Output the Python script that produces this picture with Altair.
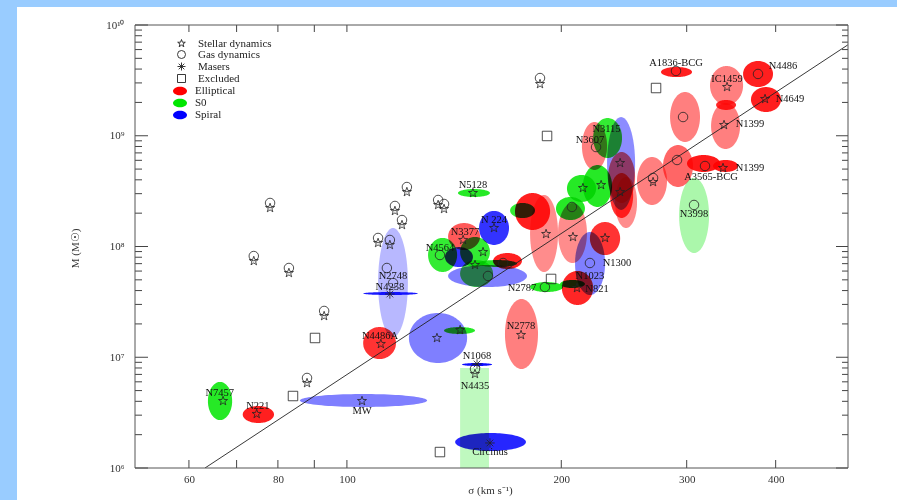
import altair as alt
import numpy as np
import pandas as pd

SERIF = "Liberation Serif"
W, H = 713, 443

# ---- black-hole mass error ellipses: type, sigma range (km/s), log10 M range ----
ell_type = ["S0", "E", "S", "S", "S", "S", "S0", "E", "S", "S",
            "E", "S0", "S0", "S", "E", "S0", "S", "S0", "S", "S0",
            "E", "S0", "E", "E", "E", "S0", "S", "E", "S0", "S0",
            "E", "E", "E", "E", "E", "E", "S0", "E", "E", "E",
            "E", "E", "E", "E", "S0", "E", "S0", "E", "S", "E", "S0"]
ell_sig_lo = [63.8, 71.4, 85.9, 141.9, 145.1, 122.2, 136.9, 105.4, 110.6, 105.4,
              166.7, 180.8, 143.2, 153.3, 138.7, 130.0, 137.3, 144.2, 138.7, 144.2,
              160.4, 152.3, 276.1, 284.3, 213.8, 221.7, 231.9, 232.7, 203.7, 214.5,
              234.2, 238.0, 255.5, 277.9, 300.3, 326.7, 292.7, 323.5, 329.9, 324.6,
              360.0, 369.3, 180.8, 172.2, 169.5, 197.9, 196.6, 219.4, 209.1, 200.4, 199.2]
ell_sig_hi = [69.0, 79.0, 129.6, 178.4, 159.9, 147.5, 151.3, 117.2, 121.8, 125.8,
              185.5, 201.1, 158.8, 168.9, 153.8, 142.8, 150.3, 158.8, 179.0, 160.4,
              176.1, 173.3, 305.2, 313.2, 231.9, 243.4, 253.9, 253.9, 223.8, 235.7,
              252.3, 255.5, 281.5, 306.2, 334.2, 354.2, 322.5, 360.0, 351.9, 356.5,
              396.6, 407.0, 197.9, 192.9, 183.7, 217.3, 215.9, 241.9, 230.4, 221.7, 215.9]
ell_logm_lo = [6.433, 6.406, 6.551, 6.153, 6.921, 6.948, 7.210, 6.984, 7.183, 7.562,
               6.894, 7.589, 8.447, 8.014, 7.968, 7.770, 7.815, 7.815, 7.634, 7.634,
               7.797, 7.815, 9.530, 8.944, 8.691, 8.799, 8.330, 8.393, 8.402, 8.357,
               8.257, 8.167, 8.375, 8.537, 8.673, 8.673, 7.941, 9.278, 9.233, 8.880,
               9.440, 9.214, 7.770, 8.149, 8.257, 7.851, 8.239, 7.923, 7.562, 7.472, 7.625]
ell_logm_hi = [6.777, 6.560, 6.668, 6.316, 6.948, 7.400, 7.273, 7.273, 8.167, 7.589,
               7.526, 7.679, 8.519, 8.321, 8.212, 8.077, 7.995, 8.086, 7.833, 7.878,
               7.941, 7.878, 9.621, 9.395, 9.124, 9.160, 9.169, 8.853, 8.646, 8.736,
               8.664, 8.628, 8.808, 8.916, 8.826, 8.781, 8.619, 9.630, 9.323, 9.296,
               9.675, 9.440, 8.465, 8.483, 8.393, 8.393, 8.447, 8.221, 8.131, 7.779, 7.698]
ell_alpha = [0.85, 0.88, 0.5, 0.85, 0.95, 0.5, 0.85, 0.8, 0.28, 0.9,
             0.5, 0.85, 0.85, 0.8, 0.65, 0.8, 0.8, 0.8, 0.5, 0.7,
             0.88, 0.85, 0.88, 0.5, 0.5, 0.8, 0.45, 0.6, 0.85, 0.85,
             0.8, 0.45, 0.5, 0.6, 0.9, 0.9, 0.33, 0.5, 0.85, 0.5,
             0.88, 0.88, 0.45, 0.88, 0.8, 0.45, 0.85, 0.8, 0.5, 0.85, 0.9]

# upper-limit box (N4435)
lim_type = ["S0"]
lim_sig_lo, lim_sig_hi = [144.2], [158.3]
lim_logm_lo, lim_logm_hi = [6.0], [6.903]
lim_alpha = [0.25]

# ---- measurement markers ----
star_sig = [67.0, 74.7, 105.0, 133.8, 144.2, 111.6, 175.6, 150.3, 160.9, 145.6,
            155.3, 151.3, 241.9, 214.5, 227.5, 190.4, 207.7, 230.4, 210.4, 341.8,
            338.5, 386.5, 337.4, 241.9,
            121.4, 78.0, 116.8, 119.5, 134.3, 136.9, 110.6, 114.9, 74.0, 82.9,
            92.9, 87.9, 186.7, 151.3, 269.1]
star_logm = [6.605, 6.488, 6.605, 7.174, 7.246, 7.120, 7.201, 8.483, 8.167, 8.059,
             7.950, 7.833, 8.754, 8.528, 8.555, 8.113, 8.086, 8.077, 7.625, 9.440,
             9.097, 9.332, 8.709, 8.492,
             8.492, 8.348, 8.321, 8.194, 8.375, 8.339, 8.032, 8.014, 7.869, 7.761,
             7.372, 6.767, 9.467, 6.849, 8.582]
gas_sig = [289.8, 296.5, 223.8, 377.8, 290.8, 318.3, 307.2, 207.0, 219.4, 189.7,
           157.8, 165.7, 135.1, 113.8, 116.1,
           121.4, 78.0, 116.8, 119.5, 134.3, 136.9, 110.6, 114.9, 74.0, 82.9,
           92.9, 87.9, 186.7, 151.3, 269.1]
gas_logm = [9.585, 9.169, 8.898, 9.558, 8.781, 8.727, 8.375, 8.357, 7.851, 7.634,
            7.734, 7.851, 7.923, 7.806, 7.670,
            8.537, 8.393, 8.366, 8.239, 8.420, 8.384, 8.077, 8.059, 7.914, 7.806,
            7.418, 6.813, 9.521, 6.894, 8.619]
maser_sig = [114.9, 152.3, 158.8]
maser_logm = [7.571, 6.939, 6.226]
excl_sig = [191.0, 271.7, 193.5, 90.2, 84.0, 135.1]
excl_logm = [8.998, 9.431, 7.707, 7.174, 6.650, 6.144]

# ---- galaxy names ----
lab_text = ["N7457", "N221", "MW", "Circinus", "N4435", "N1068", "N4486A", "N2748",
            "N4258", "N2778", "N2787", "N5128", "N 224", "N3377", "N4564", "N1300",
            "N1023", "N821", "N3115", "N3607", "A1836-BCG", "IC1459", "N4486", "N4649",
            "N1399", "N1399", "A3565-BCG", "N3998"]
lab_sig = [66.3, 75.0, 105.0, 158.8, 151.3, 152.3, 111.3, 116.1,
           114.9, 175.6, 176.1, 150.3, 160.9, 146.5, 135.1, 239.5,
           219.4, 224.5, 231.5, 219.5, 289.8, 341.8, 409.6, 419.0,
           368.1, 368.1, 324.6, 307.2]
lab_logm = [6.677, 6.560, 6.515, 6.144, 6.740, 7.011, 7.192, 7.734,
            7.634, 7.282, 7.625, 8.555, 8.239, 8.131, 7.986, 7.851,
            7.734, 7.616, 9.065, 8.965, 9.657, 9.512, 9.630, 9.332,
            9.106, 8.709, 8.628, 8.293]

# M-sigma fit line end points
fit_sig = [63.2, 505.0]
fit_logm = [6.00, 9.82]

# axis ticks
X_TICKS = [60, 70, 80, 90, 100, 200, 300, 400]
X_LABELS = [60, 80, 100, 200, 300, 400]
Y_MAJOR = [1e6, 1e7, 1e8, 1e9, 1e10]
Y_MINOR = [k * 10.0 ** e for e in range(6, 10) for k in range(2, 10)]

TYPE_NAMES = {"E": "Elliptical", "S0": "S0", "S": "Spiral"}
TYPES = ["Elliptical", "S0", "Spiral"]
METHODS = ["Stellar dynamics", "Gas dynamics", "Masers", "Excluded"]
STAR = ("M0,-1L0.235,-0.324L0.951,-0.309L0.38,0.124L0.588,0.809L0,0.4"
        "L-0.588,0.809L-0.38,0.124L-0.951,-0.309L-0.235,-0.324Z")
ASTERISK = "M-1,0L1,0M0,-1L0,1M-0.7,-0.7L0.7,0.7M-0.7,0.7L0.7,-0.7"
ELLIPSE = "M-1,0A1,0.62 0 1,1 1,0A1,0.62 0 1,1 -1,0Z"

# ---- build tables ----
rows = []
t = np.linspace(np.pi, 0.0, 49)
for i in range(len(ell_type)):
    lx0, lx1 = np.log10(ell_sig_lo[i]), np.log10(ell_sig_hi[i])
    cx, ax = (lx0 + lx1) / 2, (lx1 - lx0) / 2
    cy, ay = (ell_logm_lo[i] + ell_logm_hi[i]) / 2, (ell_logm_hi[i] - ell_logm_lo[i]) / 2
    for tt in t:
        rows.append({
            "id": i, "type": TYPE_NAMES[ell_type[i]], "alpha": ell_alpha[i],
            "sigma": 10 ** (cx + ax * np.cos(tt)),
            "top": 10 ** (cy + ay * np.sin(tt)),
            "bottom": 10 ** (cy - ay * np.sin(tt)),
        })
ell_df = pd.DataFrame(rows)

lim_df = pd.DataFrame({
    "type": [TYPE_NAMES[v] for v in lim_type], "alpha": lim_alpha,
    "s0": lim_sig_lo, "s1": lim_sig_hi,
    "m0": [10 ** v for v in lim_logm_lo], "m1": [10 ** v for v in lim_logm_hi],
})

sym_df = pd.concat([
    pd.DataFrame({"method": m, "sigma": s, "mass": [10 ** v for v in lm]})
    for m, s, lm in [("Stellar dynamics", star_sig, star_logm),
                     ("Gas dynamics", gas_sig, gas_logm),
                     ("Masers", maser_sig, maser_logm),
                     ("Excluded", excl_sig, excl_logm)]
], ignore_index=True)

lab_df = pd.DataFrame({"name": lab_text, "sigma": lab_sig, "mass": [10 ** v for v in lab_logm]})
fit_df = pd.DataFrame({"sigma": fit_sig, "mass": [10 ** v for v in fit_logm]})

# ---- scales and axes ----
xs = alt.Scale(type="log", domain=[50.4, 505.4], nice=False)
ys = alt.Scale(type="log", domain=[1e6, 1e10], nice=False)

x_axis = alt.Axis(values=X_LABELS, format="d", ticks=False, tickSize=0, domain=False, grid=False,
                  labelFont=SERIF, labelFontSize=11, labelColor="#333", labelPadding=5,
                  labelOverlap=False, zindex=1,
                  title="σ (km s⁻¹)", titleFont=SERIF, titleFontSize=11, titleFontWeight="normal",
                  titleColor="#333", titleX=355, titleY=16, titleAnchor="middle")
y_axis = alt.Axis(values=Y_MAJOR, ticks=False, tickSize=0, domain=False, grid=False,
                  labelExpr="datum.value >= 1e10 ? '10¹⁰' : datum.value >= 1e9 ? '10⁹' : "
                            "datum.value >= 1e8 ? '10⁸' : datum.value >= 1e7 ? '10⁷' : '10⁶'",
                  labelFont=SERIF, labelFontSize=11, labelColor="#333", labelPadding=11,
                  labelOverlap=False, zindex=1,
                  title="M (M☉)", titleFont=SERIF, titleFontSize=11, titleFontWeight="normal",
                  titleColor="#333", titleX=-55, titleY=223, titleAnchor="middle")


def X(field):
    return alt.X(field, type="quantitative", scale=xs, axis=x_axis)


def Y(field):
    return alt.Y(field, type="quantitative", scale=ys, axis=y_axis)


type_scale = alt.Scale(domain=TYPES, range=["#ff0000", "#00e600", "#0000ff"])
type_legend = alt.Legend(title=None, orient="none", legendX=38, legendY=59, padding=0,
                         symbolType=ELLIPSE, symbolSize=196, symbolOpacity=1, symbolStrokeWidth=0,
                         labelFont=SERIF, labelFontSize=11, labelColor="#222", labelOffset=8,
                         rowPadding=-1)
shape_legend = alt.Legend(title=None, orient="none", legendX=41, legendY=13, padding=0,
                          symbolSize=64, symbolStrokeColor="#222", symbolStrokeWidth=0.9,
                          symbolFillColor="transparent",
                          labelFont=SERIF, labelFontSize=11, labelColor="#222", labelOffset=11,
                          rowPadding=-2)

one = pd.DataFrame({"k": [0]})

# white page panel behind the figure
panel = alt.Chart(one).mark_rect(color="white").encode(
    x=alt.value(-118), x2=alt.value(762), y=alt.value(-18), y2=alt.value(475))

ellipses = alt.Chart(ell_df).mark_area(blend="multiply", strokeWidth=0, interpolate="linear").encode(
    x=X("sigma"), y=Y("top"), y2="bottom",
    color=alt.Color("type:N", scale=type_scale, legend=type_legend),
    opacity=alt.Opacity("alpha:Q", scale=None),
    detail="id:N",
)

limits = alt.Chart(lim_df).mark_rect(blend="multiply").encode(
    x=X("s0"), x2="s1", y=Y("m0"), y2="m1",
    color=alt.Color("type:N", scale=type_scale, legend=None),
    opacity=alt.Opacity("alpha:Q", scale=None),
)

fit = alt.Chart(fit_df).mark_line(color="#222", strokeWidth=0.9, clip=True).encode(
    x=X("sigma"), y=Y("mass"))

symbols = alt.Chart(sym_df).mark_point(filled=False, color="#222", strokeWidth=0.8, size=90,
                                       opacity=1).encode(
    x=X("sigma"), y=Y("mass"),
    shape=alt.Shape("method:N", scale=alt.Scale(domain=METHODS, range=[STAR, "circle", ASTERISK, "square"]),
                    legend=shape_legend),
)

labels = alt.Chart(lab_df).mark_text(font=SERIF, fontSize=10.5, color="#111").encode(
    x=X("sigma"), y=Y("mass"), text="name:N")

# inward tick marks on all four sides
xt = pd.DataFrame({"sigma": X_TICKS})
ymaj = pd.DataFrame({"mass": Y_MAJOR})
ymin = pd.DataFrame({"mass": Y_MINOR})
tick_style = dict(color="#444", strokeWidth=1)
ticks = [
    alt.Chart(xt).mark_rule(**tick_style).encode(x=X("sigma"), y=alt.value(H), y2=alt.value(H - 8)),
    alt.Chart(xt).mark_rule(**tick_style).encode(x=X("sigma"), y=alt.value(0), y2=alt.value(7)),
    alt.Chart(ymaj).mark_rule(**tick_style).encode(y=Y("mass"), x=alt.value(0), x2=alt.value(13)),
    alt.Chart(ymin).mark_rule(**tick_style).encode(y=Y("mass"), x=alt.value(0), x2=alt.value(7)),
    alt.Chart(ymaj).mark_rule(**tick_style).encode(y=Y("mass"), x=alt.value(W), x2=alt.value(W - 12)),
    alt.Chart(ymin).mark_rule(**tick_style).encode(y=Y("mass"), x=alt.value(W), x2=alt.value(W - 6)),
]

frame = alt.Chart(one).mark_rect(fill=None, stroke="#555", strokeWidth=1).encode(
    x=alt.value(0), x2=alt.value(W), y=alt.value(0), y2=alt.value(H))

chart = alt.layer(panel, ellipses, limits, fit, symbols, labels, *ticks, frame).properties(
    width=W, height=H,
    background="#99ccff",
    padding={"left": 135, "top": 25, "right": 49, "bottom": 32},
    autosize=alt.AutoSizeParams(type="none"),
).resolve_legend(color="independent").configure_view(stroke=None)

chart.save("out.html", embed_options={"renderer": "svg", "actions": False})
